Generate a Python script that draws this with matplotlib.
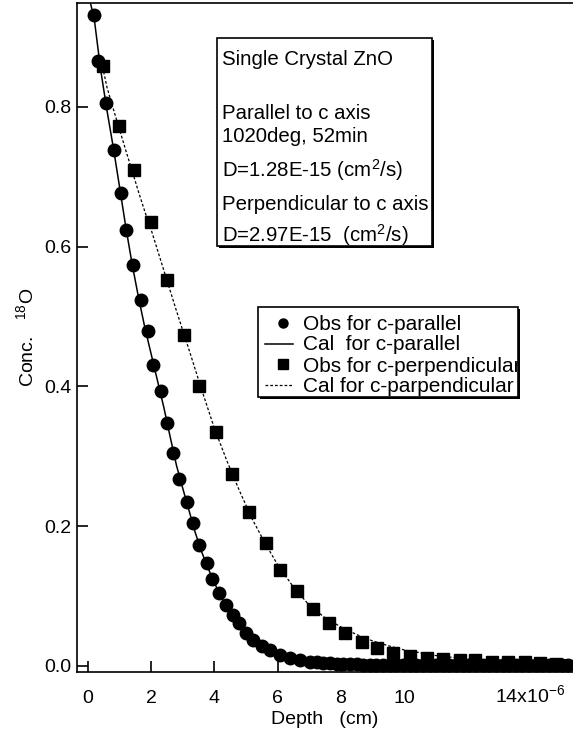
import matplotlib
matplotlib.use("Agg")
import matplotlib.pyplot as plt
from matplotlib.patches import Rectangle
from matplotlib.lines import Line2D
import matplotlib.patheffects as pe

plt.rcParams['font.family'] = ['Liberation Sans', 'DejaVu Sans']
plt.rcParams['mathtext.fontset'] = 'custom'
plt.rcParams['mathtext.rm'] = 'Liberation Sans'
plt.rcParams['mathtext.it'] = 'Liberation Sans:italic'

# Obs for c-parallel (depth in 1e-6 cm)
par_x = [0.20, 0.33, 0.56, 0.82, 1.03, 1.20, 1.41, 1.67, 1.89, 2.07, 2.30, 2.51,
         2.70, 2.89, 3.14, 3.31, 3.52, 3.77, 3.93, 4.16, 4.36, 4.60, 4.78, 5.00,
         5.23, 5.50, 5.76, 6.08, 6.39, 6.71, 7.02, 7.25, 7.45, 7.66, 7.87, 8.08,
         8.29, 8.50, 8.71, 8.92, 9.13, 9.34, 9.55, 9.76, 9.97, 10.18, 10.39, 10.60,
         10.81, 11.02, 11.23, 11.44, 11.65, 11.86, 12.07, 12.28, 12.49, 12.70,
         12.91, 13.12, 13.33, 13.54, 13.75, 13.96, 14.17, 14.38, 14.59, 14.80,
         15.01, 15.20]
par_y = [0.931, 0.866, 0.805, 0.738, 0.677, 0.623, 0.573, 0.524, 0.479, 0.430,
         0.393, 0.347, 0.304, 0.268, 0.235, 0.204, 0.173, 0.147, 0.125, 0.105,
         0.087, 0.073, 0.061, 0.047, 0.037, 0.029, 0.023, 0.016, 0.012, 0.008,
         0.006, 0.005, 0.004, 0.004, 0.003, 0.003, 0.003, 0.003, 0.002, 0.002,
         0.002, 0.002, 0.002, 0.002, 0.002, 0.002, 0.002, 0.002, 0.002, 0.002,
         0.002, 0.002, 0.002, 0.002, 0.002, 0.002, 0.002, 0.002, 0.002, 0.002,
         0.002, 0.002, 0.002, 0.002, 0.002, 0.002, 0.002, 0.002, 0.002, 0.002]

# Cal for c-parallel
cal_par_x = [0.08, 0.20, 0.40, 0.60, 0.80, 1.00, 1.20, 1.40, 1.60, 1.80, 2.00, 2.20,
             2.40, 2.60, 2.80, 3.00, 3.20, 3.40, 3.60, 3.80, 4.00, 4.20, 4.40, 4.60,
             4.80, 5.00, 5.50, 6.00, 6.50, 7.00, 8.00, 10.0, 15.3]
cal_par_y = [0.948, 0.925, 0.853, 0.795, 0.742, 0.685, 0.627, 0.574, 0.527, 0.484,
             0.446, 0.408, 0.370, 0.328, 0.287, 0.254, 0.222, 0.190, 0.163, 0.140,
             0.119, 0.100, 0.084, 0.069, 0.056, 0.045, 0.026, 0.015, 0.008, 0.004,
             0.001, 0.0, 0.0]

# Obs for c-perpendicular
perp_x = [0.46, 0.98, 1.46, 1.98, 2.51, 3.04, 3.51, 4.04, 4.57, 5.10, 5.62, 6.08,
          6.62, 7.11, 7.63, 8.13, 8.66, 9.14, 9.66, 10.19, 10.72, 11.24, 11.77,
          12.25, 12.78, 13.30, 13.83, 14.30, 14.82]
perp_y = [0.859, 0.772, 0.710, 0.635, 0.552, 0.474, 0.401, 0.335, 0.275, 0.220,
          0.176, 0.137, 0.107, 0.081, 0.062, 0.047, 0.035, 0.026, 0.019, 0.014,
          0.012, 0.010, 0.008, 0.008, 0.006, 0.005, 0.005, 0.004, 0.003]

# Cal for c-parpendicular
cal_perp_x = [0.40, 0.60, 0.80, 1.00, 1.20, 1.40, 1.60, 1.80, 2.00, 2.40, 2.80, 3.20,
              3.60, 4.00, 4.40, 4.80, 5.20, 5.60, 6.00, 6.50, 7.00, 7.50, 8.00, 8.50,
              9.00, 9.50, 10.0, 11.0, 12.0, 13.0, 14.0, 15.3]
cal_perp_y = [0.870, 0.828, 0.797, 0.767, 0.737, 0.708, 0.678, 0.650, 0.624, 0.566,
              0.508, 0.452, 0.395, 0.340, 0.293, 0.250, 0.210, 0.176, 0.145, 0.113,
              0.087, 0.069, 0.056, 0.045, 0.036, 0.029, 0.023, 0.015, 0.010, 0.007,
              0.005, 0.004]

xticks = [0, 2, 4, 6, 8, 10, 12, 14]
xticklabels = ['0', '2', '4', '6', '8', '10', '', r'14x10$^{-6}$']
yticks = [0.0, 0.2, 0.4, 0.6, 0.8]

W, H = 573, 730
def fp(x, y):
    return x / W, 1 - y / H

fig = plt.figure(figsize=(W / 100, H / 100), dpi=100)
ax = fig.add_axes([77 / W, 1 - 672 / H, 1 - 77 / W, (672 - 3.3) / H])

ax.plot(cal_par_x, cal_par_y, color='black', lw=1.1, zorder=2)
ax.plot(cal_perp_x, cal_perp_y, color='black', lw=0.9, ls=(0, (2.2, 1.6)), zorder=2)
ax.plot(par_x, par_y, 'o', color='black', ms=9, zorder=3)
ax.plot(perp_x, perp_y, 's', color='black', ms=9, zorder=3)

ax.set_xlim(-0.348, 15.35)
ax.set_ylim(-0.0086, 0.948)
ax.spines['right'].set_visible(False)
for s in ['left', 'bottom', 'top']:
    ax.spines[s].set_linewidth(1.2)
ax.set_xticks(xticks)
ax.set_xticklabels(xticklabels, va='baseline')
ax.set_yticks(yticks)
ax.set_yticklabels(['%.1f' % v for v in yticks])
ax.tick_params(direction='in', length=8, width=1.2, labelsize=14)
ax.tick_params(axis='x', pad=22)
ax.tick_params(axis='y', pad=4)
ax.set_xlabel('Depth   (cm)', fontsize=14, labelpad=3)
ax.set_ylabel(r'Conc.   $^{18}$O', fontsize=14, labelpad=5)

shadow = [pe.withSimplePatchShadow(offset=(1.5, -1.5), shadow_rgbFace='black', alpha=1)]

# annotation box
x0, y0 = fp(217, 246)
x1, y1 = fp(432, 38)
box = Rectangle((x0, y0), x1 - x0, y1 - y0, transform=fig.transFigure,
                facecolor='white', edgecolor='black', lw=1.2, zorder=5,
                path_effects=shadow)
fig.add_artist(box)
box_lines = [(65, 'Single Crystal ZnO'),
             (119, 'Parallel to c axis'),
             (142, '1020deg, 52min'),
             (177, r'D=1.28E-15 (cm$^{2}$/s)'),
             (210, 'Perpendicular to c axis'),
             (242, r'D=2.97E-15  (cm$^{2}$/s)')]
for yy, s in box_lines:
    t = fig.text(*fp(222, yy), s, fontsize=14.7, va='baseline', ha='left', zorder=6)
    t.set_clip_path(box)

# legend box
lx0, ly0 = fp(258, 397)
lx1, ly1 = fp(518, 307)
lbox = Rectangle((lx0, ly0), lx1 - lx0, ly1 - ly0, transform=fig.transFigure,
                 facecolor='white', edgecolor='black', lw=1.2, zorder=5,
                 path_effects=shadow)
fig.add_artist(lbox)
rows = [(325, 'Obs for c-parallel'),
        (345, 'Cal  for c-parallel'),
        (366, 'Obs for c-perpendicular'),
        (386, 'Cal for c-parpendicular')]
for yy, s in rows:
    t = fig.text(*fp(303, yy), s, fontsize=15, va='center', ha='left', zorder=6)
    t.set_clip_path(lbox)
mx = [fp(283, 0)[0]]
fig.add_artist(Line2D(mx, [fp(0, 323)[1]], marker='o', ms=6.5, color='black',
                      ls='none', transform=fig.transFigure, zorder=6))
fig.add_artist(Line2D([fp(265, 0)[0], fp(293, 0)[0]], [fp(0, 344)[1]] * 2, color='black',
                      lw=1.1, transform=fig.transFigure, zorder=6))
fig.add_artist(Line2D(mx, [fp(0, 364)[1]], marker='s', ms=6.5, color='black',
                      ls='none', transform=fig.transFigure, zorder=6))
fig.add_artist(Line2D([fp(265, 0)[0], fp(293, 0)[0]], [fp(0, 385)[1]] * 2, color='black',
                      lw=0.9, ls=(0, (2.2, 1.6)), transform=fig.transFigure, zorder=6))

fig.savefig('out.png', dpi=100)
